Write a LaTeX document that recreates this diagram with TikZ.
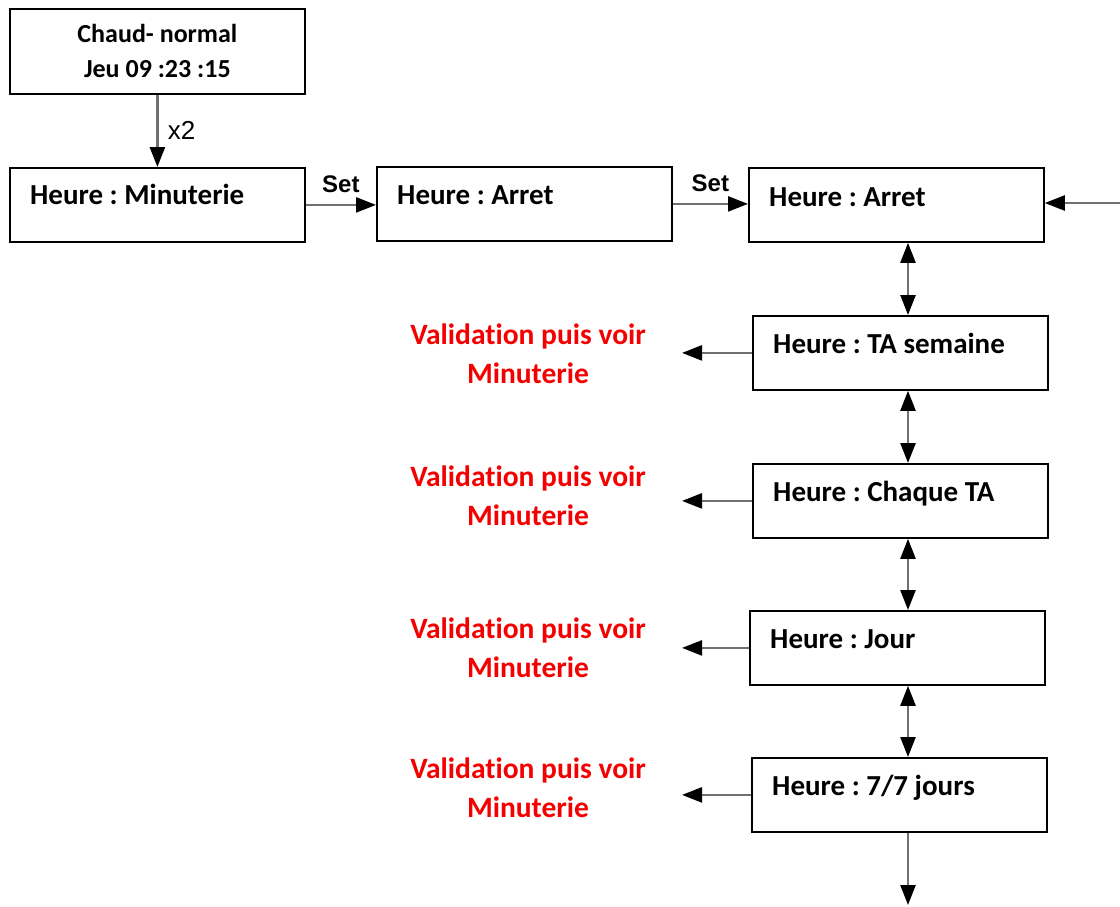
\documentclass[tikz,border=0pt]{standalone}
\usepackage{fontspec}
\setmainfont{Carlito}[Ligatures=CommonOff]
\newfontfamily\arialfont{Liberation Sans}
\usepackage{xcolor}
\usepackage{tikz}
\usetikzlibrary{arrows.meta,calc}
\definecolor{wire}{HTML}{707070}
\definecolor{alert}{HTML}{F50000}
\frenchspacing

\begin{document}
\begin{tikzpicture}[x=1pt,y=-1pt,
  box/.style={draw,line width=1.8pt,minimum width=295pt,minimum height=74pt,anchor=north west,inner sep=0pt},
  txt/.style={font=\fontsize{29}{34}\selectfont\bfseries,anchor=base west,inner sep=0pt},
  note/.style={font=\fontsize{29.5}{39}\selectfont\bfseries,text=alert,align=center},
  wire/.style={draw=wire,line width=2.4pt,-{Triangle[length=20pt,width=15pt,color=black]}},
  twoway/.style={wire,{Triangle[length=20pt,width=15pt,color=black]}-{Triangle[length=20pt,width=15pt,color=black]}},
  keylbl/.style={font=\arialfont\fontsize{26}{26}\selectfont},
  setlbl/.style={font=\arialfont\bfseries\fontsize{24}{24}\selectfont,midway,above,inner sep=1pt,yshift=10pt}]
  \useasboundingbox (0,0) rectangle (1120,906);
  \coordinate (gauche) at (682,0);
  \coordinate (droite) at (1120,203);
  \coordinate (bas) at (908,905);
  % top row
  \node[box,minimum height=85pt,align=center,font=\fontsize{26}{35}\selectfont\bfseries] (etat) at (9,8) {Chaud- normal\\Jeu 09 :23 :15};
  \node[box] (minut) at (9,167) {};
  \node[txt] (minut-t) at ($(minut.north west)+(21,37)$) {Heure : Minuterie};
  \node[box] (arret1) at (376,166) {};
  \node[txt] (arret1-t) at ($(arret1.north west)+(21,38)$) {Heure : Arret};
  \node[box] (arret2) at (748,167) {};
  \node[txt] (arret2-t) at ($(arret2.north west)+(21,39)$) {Heure : Arret};
  \draw[wire] (etat.south) -- node[midway,right,xshift=6pt,keylbl] (fois) {x2} (minut.north);
  \draw[wire] (minut.east) -- node[setlbl] (set1) {Set} (minut.east -| arret1.west);
  \draw[wire] (arret1.east) -- node[setlbl] (set2) {Set} (arret1.east -| arret2.west);
  \draw[wire] (droite) -- (droite -| arret2.east);
  % right column
  \foreach \nom/\x/\y/\txt/\ny in {tasem/752/315/TA semaine/354, chaque/752/463/Chaque TA/496,
      jour/749/610/Jour/648, sept/751/757/{7/7 jours}/788}{
    \node[box] (\nom) at (\x,\y) {};
    \node[txt] (\nom-t) at ($(\nom.north west)+(21,38)$) {Heure : \txt};
    \node[note] (\nom-n) at (528,\ny) {Validation puis voir\\Minuterie};
    \draw[wire] (\nom.west) -- (\nom.west -| gauche);
  }
  \foreach \a/\b in {arret2/tasem,tasem/chaque,chaque/jour,jour/sept}
    \draw[twoway] (\a.south -| bas) -- (\b.north -| bas);
  \draw[wire] (sept.south -| bas) -- (bas);
\end{tikzpicture}
\end{document}
